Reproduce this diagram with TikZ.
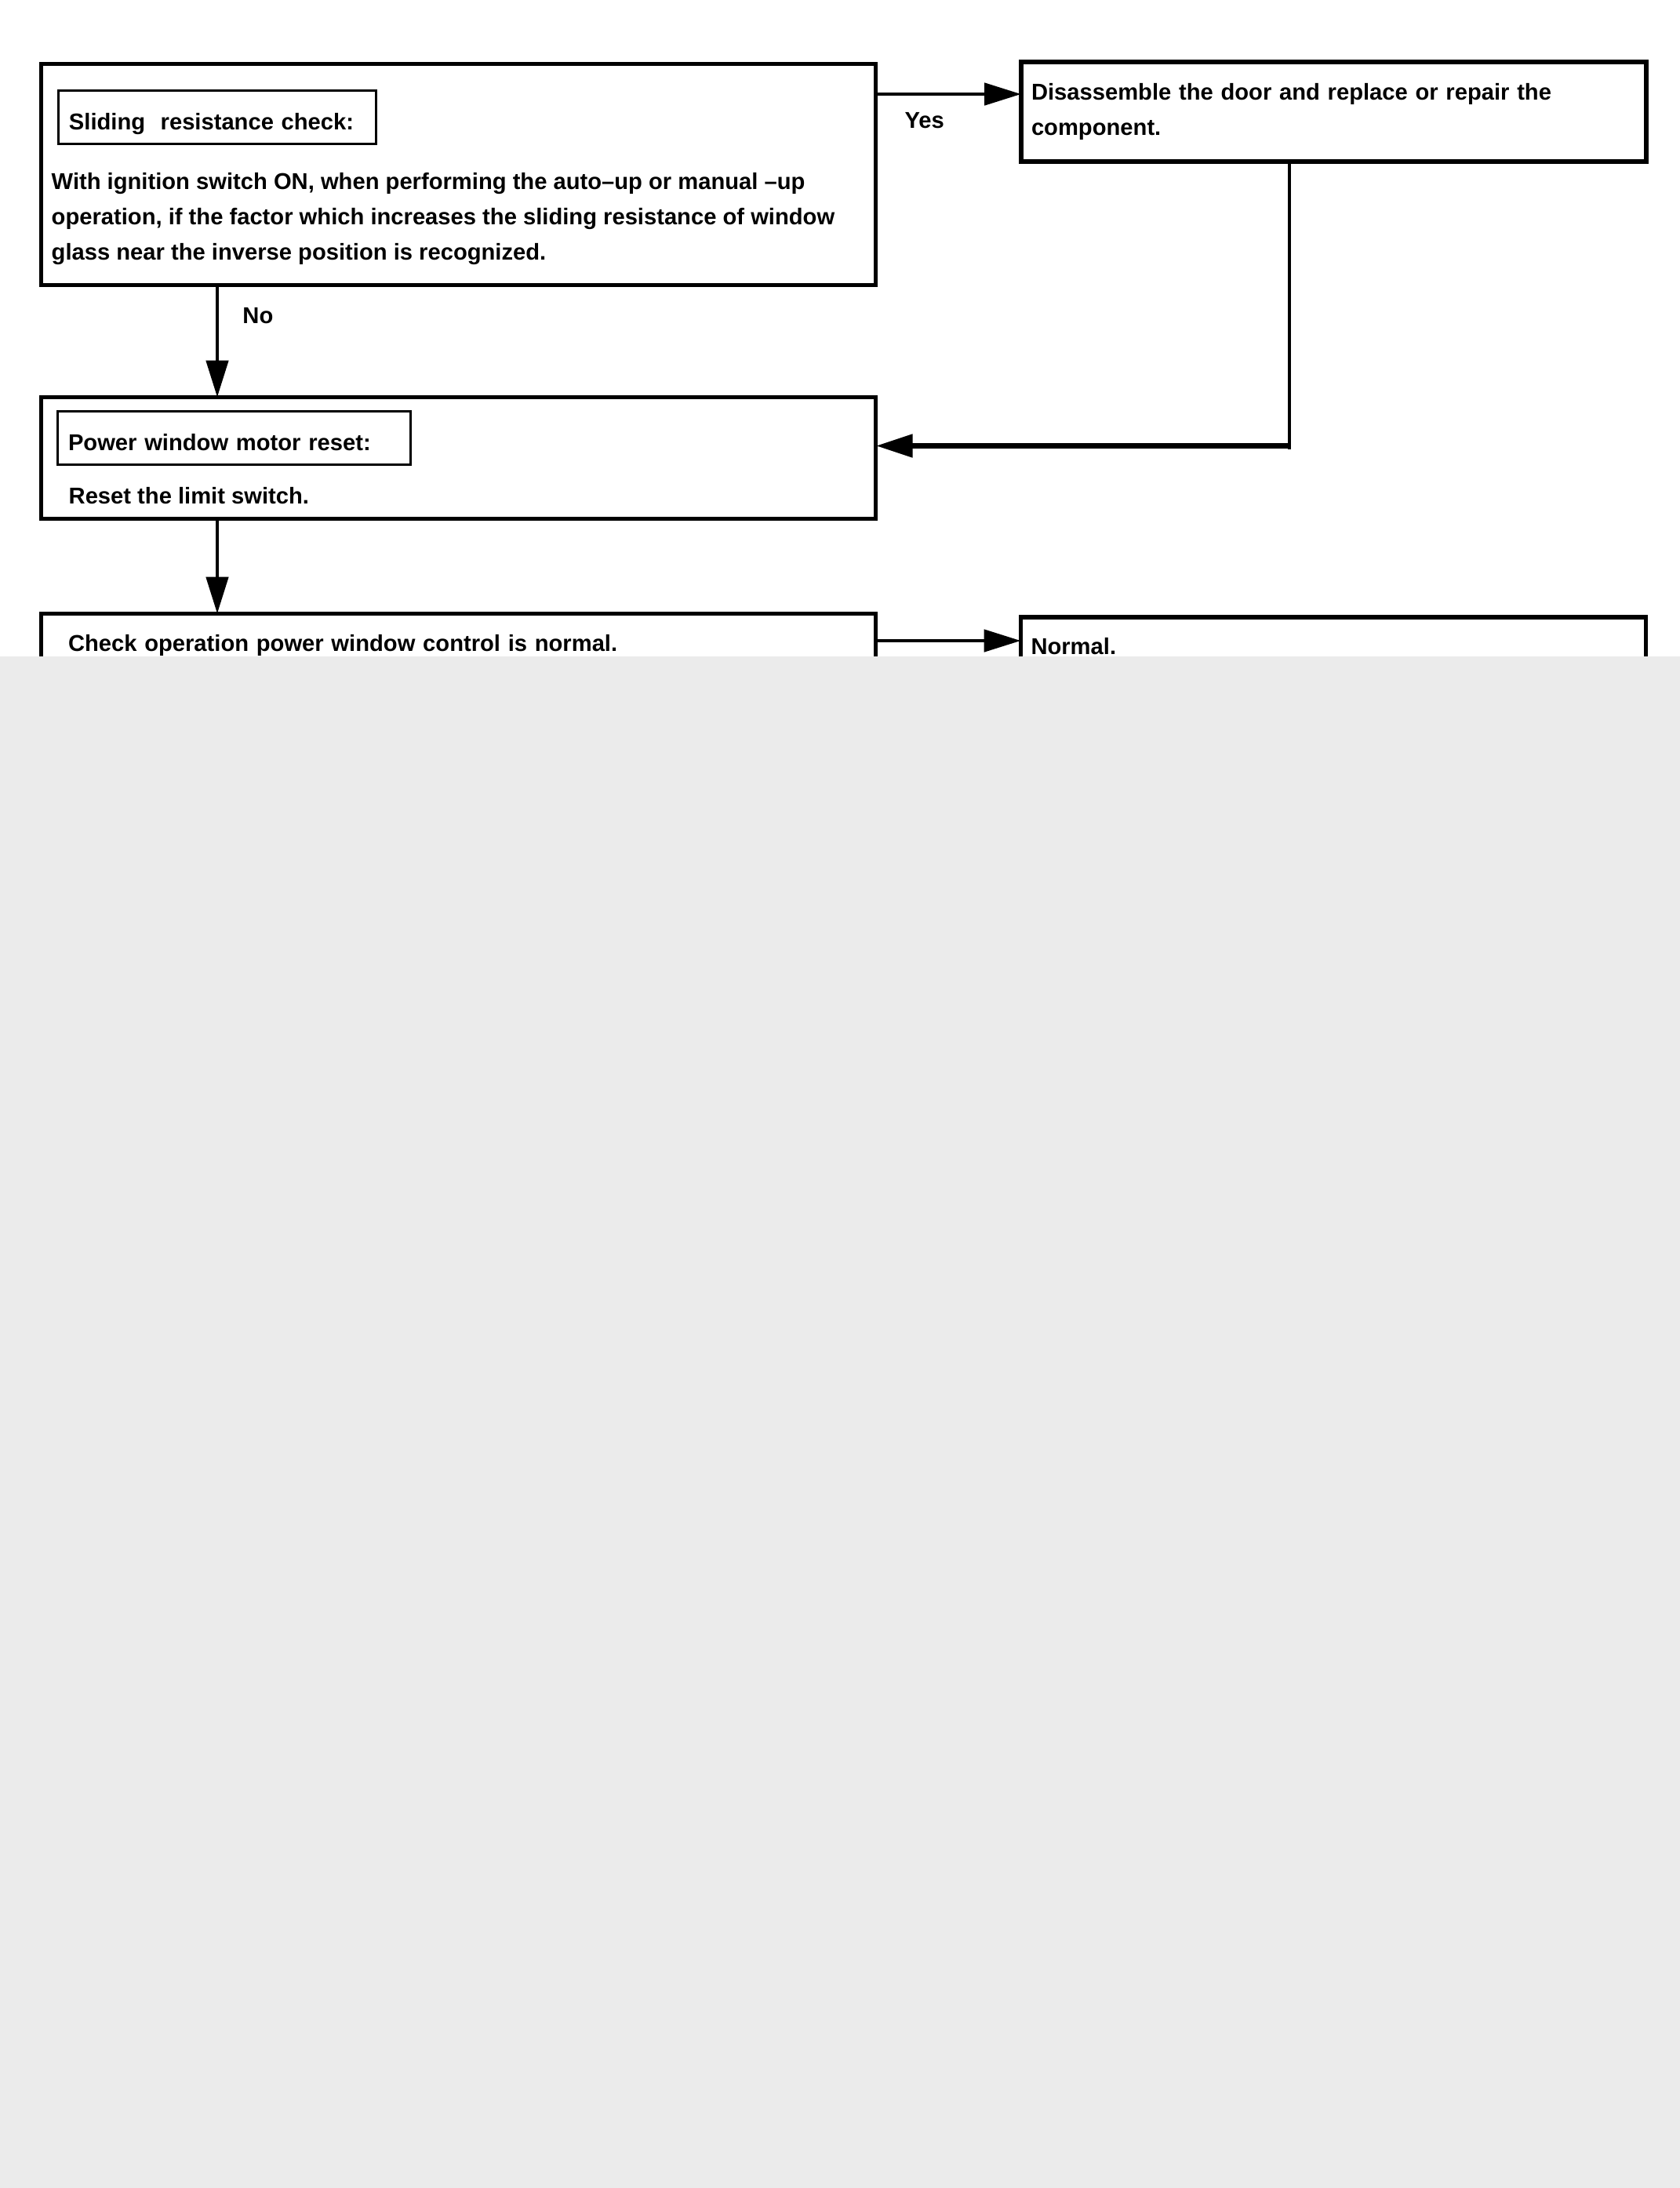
\documentclass[tikz,border=0pt]{standalone}
\usepackage{fontspec}
\setmainfont{Liberation Sans}
\usepackage{tikz}
\usetikzlibrary{positioning, arrows.meta}
\tikzstyle{stepbox} = [rectangle, draw=black, line width=1.6pt, inner sep=0pt, outer sep=0pt, minimum width=10.64cm]
\tikzstyle{sidebox} = [rectangle, draw=black, line width=1.6pt, inner sep=0pt, inner xsep=0.13cm, outer sep=0pt, minimum width=7.97cm, text width=7.71cm, align=left]
\tikzstyle{ttlbox} = [rectangle, draw=black, line width=0.9pt, inner sep=0pt, inner xsep=0.135cm, outer sep=0pt, minimum height=0.68cm, text height=3.15mm, text depth=0pt, align=left]
\tikzstyle{body} = [inner sep=0pt, align=left]
\tikzstyle{lbl} = [inner sep=0pt]
\tikzstyle{arrow} = [line width=1.4pt, -{Triangle[length=4.7mm, width=2.8mm]}]

\begin{document}
\begin{tikzpicture}[font=\bfseries\fontsize{8.3pt}{12.8pt}\selectfont]
	\useasboundingbox (0,0) rectangle (21.42,-27.9);
	\node (chk) [stepbox, minimum height=2.82cm, anchor=north west] at (0.525,-0.815) {};
	\node (chkttl) [ttlbox, text width=3.78cm, below right=0.34cm and 0.22cm of chk.north west] {Sliding\ \ resistance check:};
	\node (chktxt) [body, below right=1.385cm and 0.125cm of chk.north west] {With ignition switch ON, when performing the auto–up or manual –up\\operation, if the factor which increases the sliding resistance of window\\glass near the inverse position is recognized.};
	\node (rep) [sidebox, minimum height=1.27cm, below right=-0.025cm and 1.855cm of chk.north east] {Disassemble the door and replace or repair the\\component.};
	\node (rst) [stepbox, minimum height=1.55cm, below=1.43cm of chk] {};
	\node (rstttl) [ttlbox, text width=4.23cm, below right=0.18cm and 0.21cm of rst.north west] {Power window motor reset:};
	\node (rsttxt) [body, below right=1.145cm and 0.345cm of rst.north west] {Reset the limit switch.};
	\node (ctl) [stepbox, minimum height=0.8cm, inner xsep=0.345cm, text width=9.95cm, align=left, below=1.21cm of rst] {Check operation power window control is normal.};
	\node (nrm) [sidebox, minimum height=0.75cm, below right=0.045cm and 1.85cm of ctl.north east] {Normal.};

	\draw [arrow] ([yshift=-0.385cm]chk.north east) -- ([yshift=-0.385cm]chk.north east -| rep.west) node [lbl, pos=0.335, below=0.21cm] {Yes};
	\draw [arrow] ([xshift=2.245cm]chk.south west) -- ([xshift=2.245cm]rst.north west) node [lbl, pos=0.273, right=0.3cm] {No};
	\draw [line width=1.4pt] ([xshift=-0.565cm]rep.south) -- ++(0,-3.625) coordinate (back) -- ++(0,-0.04);
	\draw [arrow, line width=2.2pt] (back) -- (back -| rst.east);
	\draw [arrow] ([xshift=2.245cm]rst.south west) -- ([xshift=2.245cm]ctl.north west);
	\draw [arrow] ([yshift=-0.345cm]ctl.north east) -- ([yshift=-0.345cm]ctl.north east -| nrm.west) node [lbl, pos=0.335, below=0.21cm] {Yes};

	% grey cover over the rest of the page
	\fill [black!8] (0,-8.37) rectangle (21.42,-27.9);
\end{tikzpicture}
\end{document}
